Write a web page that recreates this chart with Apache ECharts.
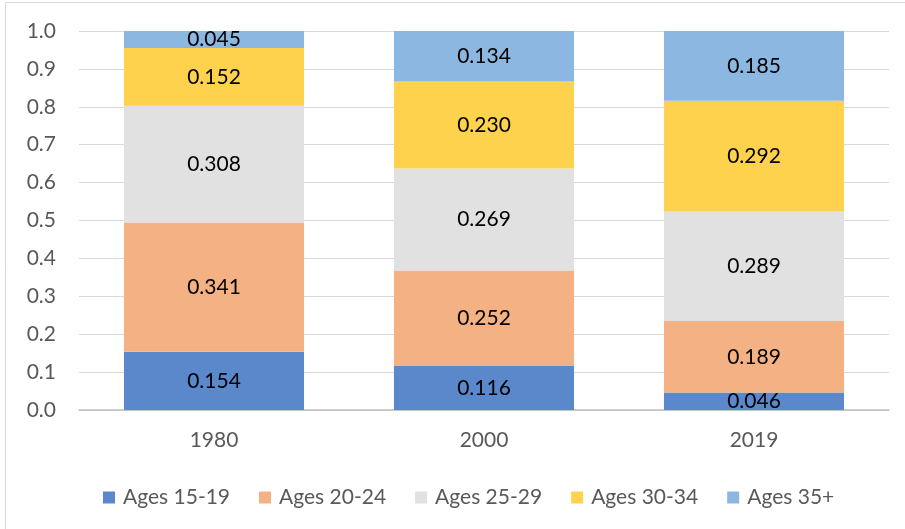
<!DOCTYPE html>
<html>
<head>
<meta charset="utf-8">
<script src="https://cdn.jsdelivr.net/npm/echarts@6/dist/echarts.min.js"></script>
<style>
  html, body { margin: 0; padding: 0; background: #fff; }
  #chart { width: 905px; height: 529px; }
</style>
</head>
<body>
<div id="chart"></div>
<script>
// Share of births by mother's age group, per year
const years = ['1980', '2000', '2019'];
const groupNames = ['Ages 15-19', 'Ages 20-24', 'Ages 25-29', 'Ages 30-34', 'Ages 35+'];
const ages15to19 = [0.154, 0.116, 0.046];
const ages20to24 = [0.341, 0.252, 0.189];
const ages25to29 = [0.308, 0.269, 0.289];
const ages30to34 = [0.152, 0.230, 0.292];
const ages35plus = [0.045, 0.134, 0.185];

const groupValues = [ages15to19, ages20to24, ages25to29, ages30to34, ages35plus];
const groupColors = ['#5b87cb', '#f4b183', '#e1e1e1', '#fed24c', '#8bb7e1'];
const fontFamily = 'Lato, "Open Sans", sans-serif';
const fontSize = 21;

const chart = echarts.init(document.getElementById('chart'));
chart.setOption({
  animation: false,
  backgroundColor: '#ffffff',
  textStyle: { fontFamily: fontFamily },
  graphic: [{
    type: 'rect',
    shape: { x: 5.5, y: 2.5, width: 1000, height: 1000 },
    style: { fill: 'none', stroke: '#d9d9d9', lineWidth: 1 },
    silent: true
  }],
  grid: { left: 79, right: 16, top: 31, bottom: 119 },
  legend: {
    top: 482,
    left: 98,
    itemWidth: 12,
    itemHeight: 12,
    itemGap: 29,
    icon: 'rect',
    textStyle: { fontSize: fontSize, color: '#595959', fontFamily: fontFamily, padding: [0, 0, 0, 3] },
    data: groupNames
  },
  xAxis: {
    type: 'category',
    data: years,
    axisLine: { lineStyle: { color: '#bfbfbf', width: 1.5 } },
    axisTick: { show: false },
    axisLabel: { fontSize: fontSize, color: '#595959', margin: 20, fontFamily: fontFamily }
  },
  yAxis: {
    type: 'value',
    min: 0,
    max: 1,
    interval: 0.1,
    axisLine: { show: false },
    axisTick: { show: false },
    splitLine: { lineStyle: { color: '#d9d9d9', width: 1 } },
    axisLabel: {
      fontSize: fontSize, color: '#595959', margin: 23, fontFamily: fontFamily,
      formatter: v => v.toFixed(1)
    }
  },
  series: groupNames.map((name, i) => ({
    name: name,
    type: 'bar',
    stack: 'share',
    barWidth: '66.7%',
    clip: true,
    data: groupValues[i],
    itemStyle: { color: groupColors[i] },
    label: {
      show: true,
      position: 'inside',
      fontSize: fontSize,
      color: '#000000',
      fontFamily: fontFamily,
      formatter: p => p.value.toFixed(3)
    }
  }))
});
</script>
</body>
</html>
